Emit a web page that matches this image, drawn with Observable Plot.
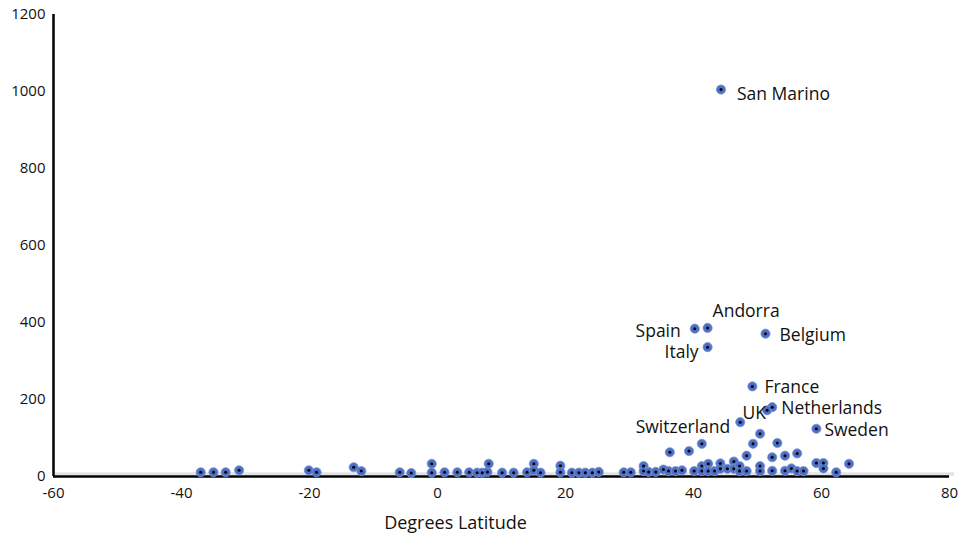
<!DOCTYPE html>
<html>
<head>
<meta charset="utf-8">
<script src="https://cdn.jsdelivr.net/npm/d3@7"></script>
<script src="https://cdn.jsdelivr.net/npm/@observablehq/plot@0.6"></script>
<style>
  html, body { margin: 0; padding: 0; background: white; }
  #chart { width: 966px; height: 546px; }
</style>
</head>
<body>
<div id="chart"></div>
<script>
// Labeled countries
const labelNames = ["San Marino", "Andorra", "Spain", "Italy", "Belgium", "France", "Netherlands", "UK", "Switzerland", "Sweden"];
const labelLat   = [44.3, 42.2, 40.2, 42.2, 51.25, 49.2, 52.3, 51.5, 47.3, 59.2];
const labelValue = [1005, 386, 384, 336, 371, 234, 180, 172, 141, 124];

// Unlabeled points
const otherLat = [
  -37.0, -35.0, -33.1, -31.0, -20.1, -18.9, -13.1, -11.9, -5.9, -4.1,
  -0.9, -0.9, 1.1, 3.1, 4.95, 6.2, 7.0, 7.8, 8.0, 10.1,
  11.9, 14.0, 15.05, 15.05, 16.1, 19.2, 19.2, 21.0, 22.1, 23.1,
  24.2, 25.2, 29.1, 30.2, 32.2, 32.2, 33.0, 34.1, 35.3, 36.1,
  36.3, 37.2, 38.2, 39.3, 40.1, 41.3, 41.3, 41.3, 42.3, 42.3,
  43.3, 44.2, 44.2, 45.3, 46.3, 46.3, 47.2, 47.2, 48.3, 48.3,
  49.3, 50.4, 50.4, 50.4, 52.3, 52.3, 53.1, 54.3, 54.3, 55.3,
  56.2, 56.2, 57.2, 59.2, 60.3, 60.3, 62.3, 64.3
];
const otherValue = [
  11, 11, 11, 16, 16, 11, 24, 14, 11, 9,
  33, 10, 11, 11, 11, 10, 10, 12, 33, 10,
  10, 11, 33, 16, 10, 28, 11, 10, 10, 10,
  10, 12, 11, 11, 27, 14, 12, 12, 18, 14,
  63, 14, 16, 66, 14, 85, 27, 14, 33, 14,
  14, 34, 20, 20, 39, 20, 27, 14, 54, 14,
  85, 111, 27, 14, 50, 15, 87, 54, 15, 21,
  60, 14, 14, 35, 35, 21, 11, 33
];

const xTicks = [-60, -40, -20, 0, 20, 40, 60, 80];
const yTicks = [0, 200, 400, 600, 800, 1000, 1200];

const labeled = labelNames.map((name, i) => ({name, lat: labelLat[i], value: labelValue[i]}));
const others = otherLat.map((lat, i) => ({lat, value: otherValue[i]}));
const allPoints = others.concat(labeled);

// label placement (style only)
const placement = {
  "San Marino":  {dx: 16, dy: 5,  anchor: "start"},
  "Andorra":     {dx: 5,  dy: -16, anchor: "start"},
  "Spain":       {dx: -14, dy: 3, anchor: "end"},
  "Italy":       {dx: -9, dy: 5,  anchor: "end"},
  "Belgium":     {dx: 14, dy: 2,  anchor: "start"},
  "France":      {dx: 12, dy: 1,  anchor: "start"},
  "Netherlands": {dx: 9,  dy: 1,  anchor: "start"},
  "UK":          {dx: -1, dy: 3,  anchor: "end"},
  "Switzerland": {dx: -10, dy: 5, anchor: "end"},
  "Sweden":      {dx: 8,  dy: 2,  anchor: "start"}
};

const labelMarks = labeled.map(d => {
  const p = placement[d.name];
  return Plot.text([d], {x: "lat", y: "value", text: "name", dx: p.dx, dy: p.dy,
    textAnchor: p.anchor, fontSize: 17.5, fill: "#111"});
});

const fmt = d => String(d);

const chart = Plot.plot({
  width: 966,
  height: 546,
  marginLeft: 53,
  marginRight: 17,
  marginTop: 14,
  marginBottom: 70,
  style: "font-family: 'Open Sans', sans-serif; font-size: 15px; background: white; color: #111;",
  x: {domain: [-60, 80]},
  y: {domain: [0, 1200]},
  marks: [
    Plot.axisX({ticks: xTicks, tickFormat: fmt, tickSize: 0, tickPadding: 11, label: null, fontSize: 15, fill: "#111"}),
    Plot.axisY({ticks: yTicks, tickFormat: fmt, tickSize: 0, tickPadding: 8, label: null, fontSize: 15, fill: "#111"}),
    Plot.ruleY([0], {x1: -60, x2: 80.8, stroke: "#e3e3e3", strokeWidth: 3.5, dy: -2.5}),
    Plot.ruleY([0], {stroke: "black", strokeWidth: 2.5}),
    Plot.ruleX([-60], {stroke: "black", strokeWidth: 2.5}),
    Plot.dot(allPoints, {x: "lat", y: "value", r: 4.6, fill: "#4d6fc6", stroke: "#7d95d6", strokeWidth: 0.8}),
    Plot.dot(allPoints, {x: "lat", y: "value", r: 1.5, fill: "black"}),
    ...labelMarks,
    Plot.text(["Degrees Latitude"], {frameAnchor: "bottom", dx: -46, dy: 52, fontSize: 18, fill: "#111"})
  ]
});
document.getElementById("chart").appendChild(chart);
</script>
</body>
</html>
